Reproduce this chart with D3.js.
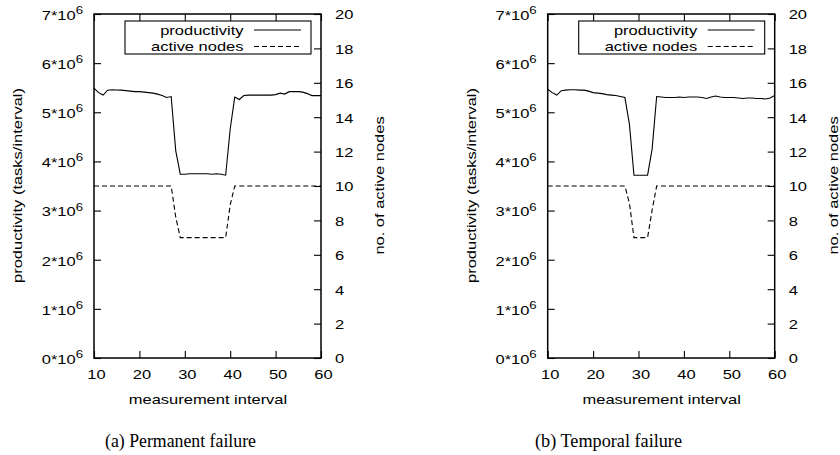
<!DOCTYPE html>
<html>
<head>
<meta charset="utf-8">
<script src="https://cdn.jsdelivr.net/npm/d3@7"></script>
<style>
  body { margin: 0; background: #fff; }
  svg text { font-family: "Liberation Sans", Arial, Helvetica, sans-serif; fill: #000; }
</style>
</head>
<body>
<svg id="fig" width="840" height="455"></svg>
<script>
// Measurement intervals (x axis)
const intervals = [10, 11, 12, 13, 14, 15, 16, 17, 18, 19,
                   20, 21, 22, 23, 24, 25, 26, 27, 28, 29,
                   30, 31, 32, 33, 34, 35, 36, 37, 38, 39,
                   40, 41, 42, 43, 44, 45, 46, 47, 48, 49,
                   50, 51, 52, 53, 54, 55, 56, 57, 58, 59, 60];

// (a) permanent failure: productivity in millions of tasks per interval
const permProductivity = [5.49, 5.40, 5.35, 5.45, 5.46, 5.455, 5.45, 5.44, 5.43, 5.42,
                          5.42, 5.41, 5.40, 5.39, 5.37, 5.34, 5.30, 5.32, 4.22, 3.74,
                          3.74, 3.75, 3.75, 3.75, 3.75, 3.75, 3.74, 3.75, 3.74, 3.72,
                          4.66, 5.31, 5.26, 5.34, 5.35, 5.35, 5.35, 5.35, 5.35, 5.35,
                          5.36, 5.39, 5.37, 5.42, 5.42, 5.42, 5.41, 5.38, 5.34, 5.34, 5.34];
const permActiveNodes = [10, 10, 10, 10, 10, 10, 10, 10, 10, 10,
                         10, 10, 10, 10, 10, 10, 10, 10, 8.2, 7,
                         7, 7, 7, 7, 7, 7, 7, 7, 7, 7,
                         8.9, 10, 10, 10, 10, 10, 10, 10, 10, 10,
                         10, 10, 10, 10, 10, 10, 10, 10, 10, 10, 10];

// (b) temporal failure
const tempProductivity = [5.47, 5.40, 5.35, 5.44, 5.45, 5.46, 5.46, 5.45, 5.45, 5.43,
                          5.40, 5.39, 5.38, 5.36, 5.35, 5.34, 5.32, 5.30, 4.76, 3.72,
                          3.72, 3.72, 3.72, 4.25, 5.32, 5.31, 5.30, 5.30, 5.30, 5.31,
                          5.30, 5.31, 5.31, 5.31, 5.30, 5.28, 5.31, 5.33, 5.31, 5.30,
                          5.30, 5.30, 5.29, 5.28, 5.29, 5.29, 5.28, 5.28, 5.27, 5.29, 5.34];
const tempActiveNodes = [10, 10, 10, 10, 10, 10, 10, 10, 10, 10,
                         10, 10, 10, 10, 10, 10, 10, 10, 9.0, 7,
                         7, 7, 7, 8.6, 10, 10, 10, 10, 10, 10,
                         10, 10, 10, 10, 10, 10, 10, 10, 10, 10,
                         10, 10, 10, 10, 10, 10, 10, 10, 10, 10, 10];

const productivityTicks = [0, 1, 2, 3, 4, 5, 6, 7];
const nodeTicks = [0, 2, 4, 6, 8, 10, 12, 14, 16, 18, 20];
const intervalTicks = [10, 20, 30, 40, 50, 60];
const seriesNames = ["productivity", "active nodes"];
const captions = ["(a) Permanent failure", "(b) Temporal failure"];
const xTitle = "measurement interval";
const yTitle = "productivity (tasks/interval)";
const y2Title = "no. of active nodes";

// Layout
const FS = 13.5;        // sans font size
const SX = 1.22;        // horizontal glyph stretch of the sans labels
const plotTop = 14, plotH = 344, plotW = 227;
const panels = [
  { left: 94,    prod: permProductivity, nodes: permActiveNodes, caption: captions[0], capX: 180.5, capW: 151 },
  { left: 547.7, prod: tempProductivity, nodes: tempActiveNodes, caption: captions[1], capX: 608.5, capW: 147 }
];

const svg = d3.select("#fig");

// stretch a text element along its baseline by factor k
function stretch(sel, k) {
  sel.each(function () {
    const len = this.getComputedTextLength();
    d3.select(this).attr("textLength", len * k).attr("lengthAdjust", "spacingAndGlyphs");
  });
}

panels.forEach(p => {
  const g = svg.append("g").attr("transform", `translate(${p.left},${plotTop})`);

  const x = d3.scaleLinear().domain([10, 60]).range([0, plotW]);
  const y = d3.scaleLinear().domain([0, 7]).range([plotH, 0]);
  const y2 = d3.scaleLinear().domain([0, 20]).range([plotH, 0]);

  // axes with inward ticks
  const tick = 7;
  const gx = g.append("g").attr("transform", `translate(0,${plotH})`)
    .call(d3.axisBottom(x).tickValues(intervalTicks).tickSizeInner(-tick).tickSizeOuter(0).tickPadding(11));
  const gxTop = g.append("g")
    .call(d3.axisTop(x).tickValues(intervalTicks).tickSizeInner(-tick).tickSizeOuter(0).tickFormat(""));
  const gy = g.append("g")
    .call(d3.axisLeft(y).tickValues(productivityTicks).tickSizeInner(-tick).tickSizeOuter(0).tickPadding(11)
      .tickFormat(d => d + "*10"));
  const gy2 = g.append("g").attr("transform", `translate(${plotW},0)`)
    .call(d3.axisRight(y2).tickValues(nodeTicks).tickSizeInner(-tick).tickSizeOuter(0).tickPadding(14));

  [gx, gxTop, gy, gy2].forEach(a => {
    a.select(".domain").remove();
    a.selectAll("line").attr("stroke", "#000").attr("stroke-width", 1.1);
    a.selectAll("text").attr("font-size", FS).attr("font-family", null);
  });
  gx.selectAll("text").attr("dx", "0.15em");
  gy.selectAll("text").append("tspan").attr("dy", "-0.55em").attr("font-size", FS * 0.8).text("6");
  gy.selectAll("text").attr("dy", "0.4em");
  gy2.selectAll("text").attr("dy", "0.36em");
  [gx, gy, gy2].forEach(a => stretch(a.selectAll("text"), SX));

  // frame
  g.append("rect").attr("width", plotW).attr("height", plotH)
    .attr("fill", "none").attr("stroke", "#000").attr("stroke-width", 1.5);

  // series
  const prodLine = d3.line().x((d, i) => x(intervals[i])).y(d => y(d));
  const nodeLine = d3.line().x((d, i) => x(intervals[i])).y(d => y2(d));
  g.append("path").datum(p.prod).attr("d", prodLine)
    .attr("fill", "none").attr("stroke", "#000").attr("stroke-width", 1.1);
  g.append("path").datum(p.nodes).attr("d", nodeLine)
    .attr("fill", "none").attr("stroke", "#000").attr("stroke-width", 1.1).attr("stroke-dasharray", "5,3");

  // legend
  const lg = g.append("g");
  lg.append("rect").attr("x", 31).attr("y", 7).attr("width", plotW - 41).attr("height", 33)
    .attr("fill", "#fff").attr("stroke", "#000").attr("stroke-width", 1.1);
  seriesNames.forEach((name, i) => {
    const yy = 16 + i * 16.5;
    const t = lg.append("text").attr("x", plotW - 77.5).attr("y", yy).attr("dy", "0.36em")
      .attr("text-anchor", "end").attr("font-size", FS).text(name);
    stretch(t, SX);
    lg.append("line").attr("x1", plotW - 67).attr("x2", plotW - 20).attr("y1", yy).attr("y2", yy)
      .attr("stroke", "#000").attr("stroke-width", 1.1)
      .attr("stroke-dasharray", i === 1 ? "5,3" : null);
  });

  // axis titles
  const xt = g.append("text").attr("x", plotW / 2 + 0.5).attr("y", plotH + 46)
    .attr("text-anchor", "middle").attr("font-size", FS).text(xTitle);
  stretch(xt, SX);
  const yt = g.append("text").attr("transform", `translate(-72,${171.5}) rotate(-90)`)
    .attr("text-anchor", "middle").attr("font-size", FS).text(yTitle);
  stretch(yt, SX);
  const y2t = g.append("text").attr("transform", `translate(${plotW + 63},${171.5}) rotate(-90)`)
    .attr("text-anchor", "middle").attr("font-size", FS).text(y2Title);
  stretch(y2t, SX);

  // sub-figure caption
  svg.append("text").attr("x", p.capX).attr("y", 447).attr("text-anchor", "middle")
    .style("font-family", '"Liberation Serif", "Times New Roman", serif')
    .attr("font-size", 19).attr("textLength", p.capW).attr("lengthAdjust", "spacingAndGlyphs")
    .text(p.caption);
});
</script>
</body>
</html>
